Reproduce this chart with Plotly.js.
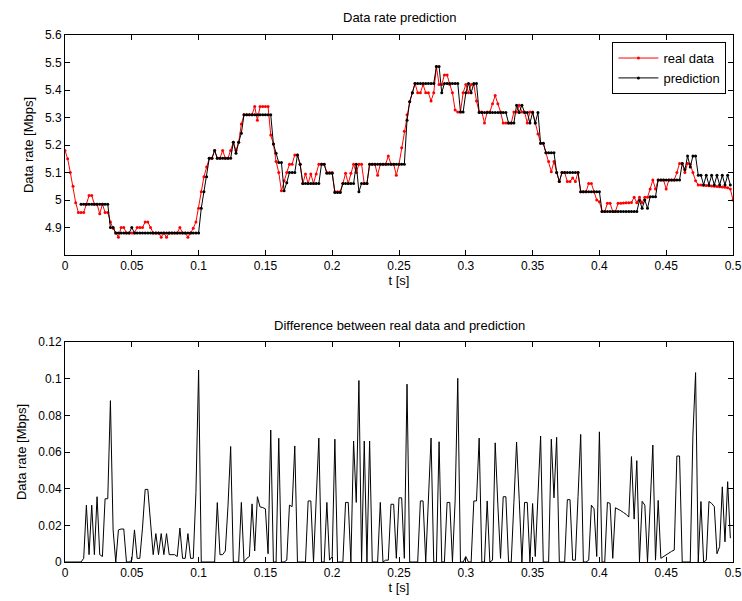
<!DOCTYPE html>
<html>
<head>
<meta charset="utf-8">
<script src="https://cdn.plot.ly/plotly-3.0.1.min.js"></script>
<style>html,body{margin:0;padding:0;background:#fff}#chart{width:742px;height:601px}</style>
</head>
<body>
<div id="chart"></div>
<script>
// sample spacing of the series (seconds)
const tStep = 0.002;

// real data rate [Mbps]
const realData = [
5.18,5.15,5.10,5.05,4.99,4.955,4.955,4.955,4.985,5.016,
5.016,4.985,4.985,4.95,4.985,4.955,4.955,4.92,4.897,4.88,
4.865,4.9,4.9,4.88,4.88,4.88,4.88,4.9,4.9,4.9,
4.92,4.92,4.9,4.88,4.88,4.88,4.865,4.88,4.865,4.88,
4.88,4.88,4.88,4.9,4.88,4.88,4.865,4.88,4.897,4.92,
4.97,5.03,5.085,5.12,5.152,5.152,5.18,5.152,5.152,5.18,
5.152,5.152,5.18,5.21,5.18,5.21,5.276,5.31,5.31,5.31,
5.31,5.34,5.29,5.34,5.34,5.34,5.34,5.236,5.204,5.14,
5.1,5.034,5.07,5.1,5.13,5.13,5.164,5.164,5.13,5.06,
5.095,5.06,5.095,5.06,5.095,5.13,5.13,5.13,5.1,5.1,
5.1,5.03,5.03,5.03,5.06,5.097,5.06,5.097,5.13,5.1,
5.13,5.13,5.06,5.06,5.13,5.13,5.13,5.09,5.13,5.13,
5.13,5.16,5.13,5.13,5.09,5.13,5.19,5.25,5.31,5.357,
5.39,5.424,5.39,5.39,5.42,5.39,5.39,5.36,5.39,5.485,
5.42,5.42,5.455,5.455,5.42,5.39,5.327,5.32,5.32,5.39,
5.42,5.39,5.42,5.42,5.36,5.32,5.32,5.28,5.32,5.32,
5.35,5.38,5.35,5.32,5.28,5.28,5.28,5.28,5.32,5.32,
5.345,5.32,5.32,5.28,5.32,5.32,5.28,5.24,5.206,5.206,
5.172,5.14,5.103,5.14,5.1,5.067,5.1,5.1,5.067,5.067,
5.08,5.067,5.1,5.03,5.03,5.03,5.06,5.06,5.03,5.0,
4.994,4.958,4.958,4.988,4.988,4.958,4.958,4.988,4.988,4.989,
4.99,4.99,4.991,5.01,4.99,5.01,4.99,5.01,5.01,5.04,
5.073,5.04,5.073,5.073,5.073,5.04,5.073,5.073,5.073,5.1,
5.133,5.133,5.1,5.133,5.13,5.1,5.07,5.055,5.055,5.054,
5.053,5.052,5.051,5.05,5.049,5.048,5.047,5.046,5.045,5.04,
5.0
];

// predicted data rate [Mbps]
const prediction = [
null,null,null,null,null,null,4.985,4.985,4.985,4.985,
4.985,4.985,4.985,4.985,4.985,4.985,4.985,4.9,4.9,4.88,
4.88,4.88,4.88,4.88,4.88,4.9,4.88,4.88,4.88,4.88,
4.88,4.88,4.88,4.88,4.88,4.88,4.88,4.88,4.88,4.88,
4.88,4.88,4.88,4.88,4.88,4.88,4.88,4.88,4.88,4.88,
4.88,4.97,5.03,5.085,5.152,5.152,5.18,5.152,5.152,5.152,
5.152,5.152,5.152,5.21,5.17,5.21,5.243,5.31,5.31,5.31,
5.31,5.31,5.31,5.31,5.31,5.31,5.31,5.31,5.204,5.17,
5.136,5.136,5.034,5.063,5.1,5.1,5.1,5.164,5.13,5.06,
5.06,5.06,5.06,5.06,5.06,5.06,5.13,5.13,5.097,5.097,
5.097,5.027,5.027,5.027,5.06,5.06,5.06,5.06,5.06,5.13,
5.03,5.06,5.06,5.06,5.13,5.13,5.13,5.13,5.13,5.13,
5.13,5.13,5.13,5.13,5.13,5.13,5.13,5.13,5.29,5.357,
5.39,5.424,5.424,5.424,5.424,5.424,5.424,5.424,5.424,5.485,
5.485,5.39,5.424,5.424,5.424,5.424,5.424,5.424,5.32,5.32,
5.39,5.424,5.39,5.424,5.424,5.318,5.318,5.318,5.318,5.318,
5.318,5.318,5.318,5.318,5.318,5.318,5.28,5.28,5.28,5.345,
5.318,5.345,5.318,5.318,5.28,5.318,5.28,5.318,5.206,5.206,
5.172,5.172,5.172,5.172,5.1,5.067,5.1,5.1,5.1,5.1,
5.1,5.1,5.1,5.03,5.03,5.03,5.03,5.03,5.03,5.03,
5.03,4.958,4.958,4.958,4.958,4.958,4.958,4.958,4.958,4.958,
4.958,4.958,4.958,4.958,4.958,4.998,4.97,5.0,4.97,5.012,
5.012,5.012,5.073,5.073,5.073,5.073,5.073,5.073,5.073,5.073,
5.073,5.133,5.11,5.16,5.12,5.16,5.16,5.09,5.09,5.055,
5.09,5.055,5.09,5.055,5.09,5.055,5.09,5.055,5.09,5.055,
null
];

// difference between real data and prediction [Mbps]
const difference = [
0,0,0,0,0,0,0,0.002,0.031,0.004,
0.031,0.004,0.0356,0.004,0.003,0.0345,0.0345,0.088,0.0175,0,
0.0175,0.018,0.018,0,0,0.001,0.0175,0.002,0.002,0.0185,
0.0396,0.0396,0.019,0.004,0.0155,0.004,0.0155,0.004,0.0155,0.004,
0.004,0.004,0.003,0.0185,0.002,0.002,0.0155,0.002,0.002,0.038,
0.1047,0,0,0,0,0,0,0.0324,0.004,0.004,
0.006,0.0305,0.063,0,0,0,0.0325,0,0.002,0.003,
0.0317,0.006,0.0356,0.03,0.0297,0.029,0.0045,0.072,0,0,
0.0675,0,0,0.001,0.031,0.0302,0.0633,0,0,0,
0,0.0333,0.0333,0,0.0336,0.0676,0,0,0.0325,0.001,
0.003,0.067,0,0,0,0.0325,0.0325,0,0.066,0.0325,
0.099,0,0.066,0,0.066,0,0,0,0.0325,0,
0.001,0.001,0.0315,0.0315,0.002,0.035,0.035,0.002,0.097,0,
0,0,0,0.0333,0.0333,0,0.0336,0.0676,0,0,
0.0656,0,0,0.0325,0.0325,0,0.0333,0.1002,0,0,
0.003,0,0,0.0333,0.0333,0.0676,0,0,0.0333,0,
0.001,0.065,0.031,0.002,0.0356,0.0356,0,0,0.0325,0.0654,
0.034,0,0.0325,0.0325,0,0.0319,0.003,0.041,0.0687,0,
0,0,0.067,0.035,0.068,0,0,0,0.034,0.034,
0.001,0.001,0.0356,0.0696,0,0,0.001,0.031,0.029,0.003,
0.071,0,0,0.0325,0.032,0.002,0.0296,0.029,0.028,0.027,
0.026,0.0245,0.0575,0.0234,0.0553,0,0.0331,0.031,0,0.031,
0.0638,0.001,0.0336,0.002,0.003,0.004,0.005,0.0058,0.0065,0.0578,
0.0578,0,0,0,0,0.0693,0.1033,0,0.033,0,
0.001,0.033,0.032,0.0302,0.0045,0.0084,0.041,0.011,0.0438,0.013,
null
];

const xTicks = [0,0.05,0.1,0.15,0.2,0.25,0.3,0.35,0.4,0.45,0.5];
const xTickText = ['0','0.05','0.1','0.15','0.2','0.25','0.3','0.35','0.4','0.45','0.5'];
const yTopTicks = [4.9,5,5.1,5.2,5.3,5.4,5.5,5.6];
const yTopTickText = ['4.9','5','5.1','5.2','5.3','5.4','5.5','5.6'];
const yBotTicks = [0,0.02,0.04,0.06,0.08,0.1,0.12];
const yBotTickText = ['0','0.02','0.04','0.06','0.08','0.1','0.12'];

const t = realData.map((_, i) => +(i * tStep).toFixed(3));

const FONT = 'Liberation Sans, Arial, Helvetica, sans-serif';

const traces = [
  {x: t, y: realData, type: 'scatter', mode: 'lines+markers', name: 'real data',
   line: {color: 'rgb(255,0,0)', width: 1}, marker: {color: 'rgb(255,0,0)', size: 3},
   xaxis: 'x', yaxis: 'y'},
  {x: t, y: prediction, type: 'scatter', mode: 'lines+markers', name: 'prediction',
   line: {color: '#000', width: 1}, marker: {color: '#000', size: 3},
   xaxis: 'x', yaxis: 'y', connectgaps: false},
  {x: t, y: difference, type: 'scatter', mode: 'lines', name: 'difference',
   line: {color: '#000', width: 1}, showlegend: false,
   xaxis: 'x2', yaxis: 'y2'}
];

const axCommon = {
  showline: true, linecolor: '#000', linewidth: 1, mirror: 'ticks',
  ticks: 'inside', ticklen: 5, tickcolor: '#000', tickwidth: 1,
  showgrid: false, zeroline: false,
  tickfont: {family: FONT, size: 12, color: '#000'}
};

const layout = {
  width: 742, height: 601,
  margin: {l: 0, r: 0, t: 0, b: 0},
  paper_bgcolor: '#fff', plot_bgcolor: '#fff',
  font: {family: FONT, color: '#000'},
  showlegend: true,
  legend: {x: 0.979, xanchor: 'right', y: 0.93, yanchor: 'top',
    bordercolor: '#000', borderwidth: 1, bgcolor: '#fff',
    font: {family: FONT, size: 13, color: '#000'}, tracegroupgap: 0, itemwidth: 40},
  xaxis: Object.assign({}, axCommon, {domain: [65/742, 733/742], range: [0, 0.5],
    tickvals: xTicks, ticktext: xTickText, anchor: 'y',
    title: {text: 't [s]', font: {family: FONT, size: 13, color: '#000'}, standoff: 2}}),
  yaxis: Object.assign({}, axCommon, {domain: [1-255/601, 1-35/601], range: [4.8, 5.6],
    tickvals: yTopTicks, ticktext: yTopTickText, anchor: 'x',
    title: {text: 'Data rate [Mbps]', font: {family: FONT, size: 13, color: '#000'}, standoff: 8}}),
  xaxis2: Object.assign({}, axCommon, {domain: [65/742, 733/742], range: [0, 0.5],
    tickvals: xTicks, ticktext: xTickText, anchor: 'y2',
    title: {text: 't [s]', font: {family: FONT, size: 13, color: '#000'}, standoff: 2}}),
  yaxis2: Object.assign({}, axCommon, {domain: [1-562/601, 1-342/601], range: [0, 0.12],
    tickvals: yBotTicks, ticktext: yBotTickText, anchor: 'x2',
    title: {text: 'Data rate [Mbps]', font: {family: FONT, size: 13, color: '#000'}, standoff: 8}}),
  annotations: [
    {text: 'Data rate prediction', xref: 'paper', yref: 'paper', x: 399/742, y: 1-18/601,
     xanchor: 'center', yanchor: 'middle', showarrow: false, font: {family: FONT, size: 13, color: '#000'}},
    {text: 'Difference between real data and prediction', xref: 'paper', yref: 'paper', x: 399/742, y: 1-325/601,
     xanchor: 'center', yanchor: 'middle', showarrow: false, font: {family: FONT, size: 13, color: '#000'}}
  ]
};

Plotly.newPlot('chart', traces, layout, {displayModeBar: false, staticPlot: true});
</script>
</body>
</html>
